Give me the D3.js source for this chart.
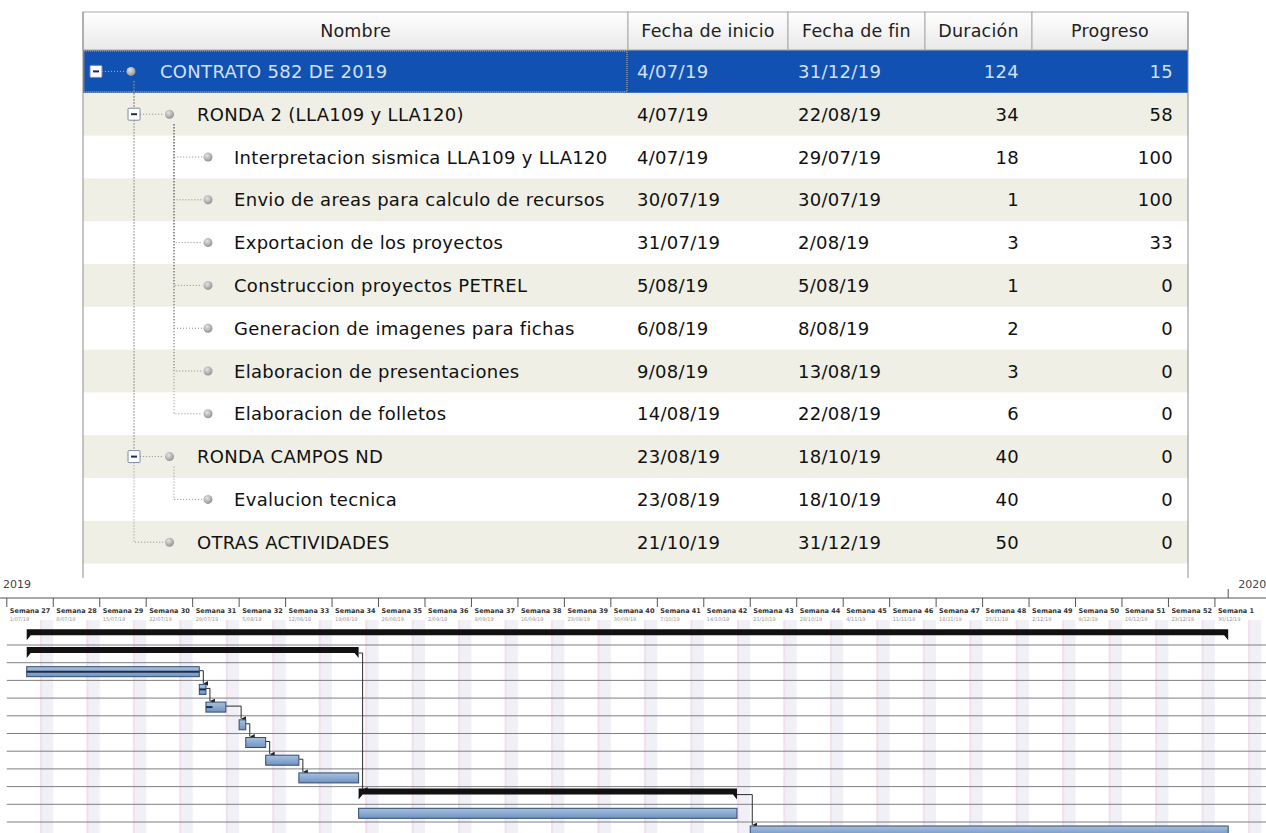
<!DOCTYPE html>
<html>
<head>
<meta charset="utf-8">
<script src="https://cdn.jsdelivr.net/npm/d3@7"></script>
<style>
  body { margin: 0; background: #fff; }
  svg { display: block; }
</style>
</head>
<body>
<div id="chart"></div>
<script>
const names = [
  "CONTRATO 582 DE 2019",
  "RONDA 2 (LLA109 y LLA120)",
  "Interpretacion sismica LLA109 y LLA120",
  "Envio de areas para calculo de recursos",
  "Exportacion de los proyectos",
  "Construccion proyectos PETREL",
  "Generacion de imagenes para fichas",
  "Elaboracion de presentaciones",
  "Elaboracion de folletos",
  "RONDA CAMPOS ND",
  "Evalucion tecnica",
  "OTRAS ACTIVIDADES"
];
const levels = [0, 1, 2, 2, 2, 2, 2, 2, 2, 1, 2, 1];
const startDates = ["4/07/19", "4/07/19", "4/07/19", "30/07/19", "31/07/19", "5/08/19",
  "6/08/19", "9/08/19", "14/08/19", "23/08/19", "23/08/19", "21/10/19"];
const endDates = ["31/12/19", "22/08/19", "29/07/19", "30/07/19", "2/08/19", "5/08/19",
  "8/08/19", "13/08/19", "22/08/19", "18/10/19", "18/10/19", "31/12/19"];
const durations = [124, 34, 18, 1, 3, 1, 2, 3, 6, 40, 40, 50];
const progress = [15, 58, 100, 100, 33, 0, 0, 0, 0, 0, 0, 0];
const summaryRows = [0, 1, 9];
const links = [[2, 3], [3, 4], [4, 5], [5, 6], [6, 7], [7, 8], [1, 9], [9, 11]];

const columns = ["Nombre", "Fecha de inicio", "Fecha de fin", "Duración", "Progreso"];
const weekNumbers = [27, 28, 29, 30, 31, 32, 33, 34, 35, 36, 37, 38, 39, 40, 41, 42, 43,
  44, 45, 46, 47, 48, 49, 50, 51, 52, 1];
const weekDates = ["1/07/19", "8/07/19", "15/07/19", "22/07/19", "29/07/19", "5/08/19",
  "12/08/19", "19/08/19", "26/08/19", "2/09/19", "9/09/19", "16/09/19", "23/09/19",
  "30/09/19", "7/10/19", "14/10/19", "21/10/19", "28/10/19", "4/11/19", "11/11/19",
  "18/11/19", "25/11/19", "2/12/19", "9/12/19", "16/12/19", "23/12/19", "30/12/19"];
const years = ["2019", "2020"];

const W = 1266, H = 833;
const parse = d3.timeParse("%d/%m/%y");
const FONT = "'DejaVu Sans', Verdana, sans-serif";

const rows = names.map((name, i) => ({
  i, name, level: levels[i],
  start: parse(startDates[i]), end: d3.timeDay.offset(parse(endDates[i]), 1),
  startText: startDates[i], endText: endDates[i],
  dur: durations[i], prog: progress[i],
  summary: summaryRows.includes(i)
}));

const svg = d3.select("#chart").append("svg")
    .attr("width", W).attr("height", H)
    .style("font-family", FONT);

const defs = svg.append("defs");
const hg = defs.append("linearGradient").attr("id", "hdr").attr("x1", 0).attr("y1", 0).attr("x2", 0).attr("y2", 1);
hg.append("stop").attr("offset", 0).attr("stop-color", "#ffffff");
hg.append("stop").attr("offset", 1).attr("stop-color", "#e9e9e9");
const bg = defs.append("linearGradient").attr("id", "bar").attr("x1", 0).attr("y1", 0).attr("x2", 0).attr("y2", 1);
bg.append("stop").attr("offset", 0).attr("stop-color", "#a9c0de");
bg.append("stop").attr("offset", 1).attr("stop-color", "#6f93c2");
const dg = defs.append("radialGradient").attr("id", "dot").attr("cx", 0.4).attr("cy", 0.35).attr("r", 0.7);
dg.append("stop").attr("offset", 0).attr("stop-color", "#e4e4e4");
dg.append("stop").attr("offset", 1).attr("stop-color", "#8e8e8e");
defs.append("marker").attr("id", "arr")
    .attr("viewBox", "0 0 6 6").attr("refX", 3).attr("refY", 6)
    .attr("markerWidth", 5).attr("markerHeight", 5).attr("orient", "auto-start-reverse")
  .append("path").attr("d", "M0,0 L6,0 L3,6 Z").attr("fill", "#222");

// ---------- table ----------
const colEdges = [83, 628, 788, 925, 1032, 1188];
const headTop = 12, headBottom = 50, rowH = 42.8;
const rowY = d3.scaleLinear().domain([0, 1]).range([headBottom, headBottom + rowH]);

const table = svg.append("g").attr("class", "table");

table.selectAll("rect.band")
  .data(rows.filter(d => d.i % 2 === 1))
  .join("rect")
    .attr("class", "band")
    .attr("x", colEdges[0]).attr("width", colEdges[5] - colEdges[0])
    .attr("y", d => rowY(d.i)).attr("height", rowH)
    .attr("fill", "#efefe5");

table.append("rect")
    .attr("x", colEdges[0]).attr("width", colEdges[5] - colEdges[0])
    .attr("y", rowY(0)).attr("height", rowH)
    .attr("fill", "#1151b2");
table.append("rect")
    .attr("x", colEdges[0] + 1).attr("width", colEdges[1] - colEdges[0] - 2)
    .attr("y", rowY(0) + 1).attr("height", rowH - 2)
    .attr("fill", "none").attr("stroke", "#d9b27a").attr("stroke-dasharray", "1,1");

// header
table.selectAll("rect.head")
  .data(columns)
  .join("rect")
    .attr("class", "head")
    .attr("x", (d, i) => colEdges[i]).attr("width", (d, i) => colEdges[i + 1] - colEdges[i])
    .attr("y", headTop).attr("height", headBottom - headTop)
    .attr("fill", "url(#hdr)").attr("stroke", "#a9a9a9");
table.selectAll("text.head")
  .data(columns)
  .join("text")
    .attr("class", "head")
    .attr("x", (d, i) => (colEdges[i] + colEdges[i + 1]) / 2)
    .attr("y", (headTop + headBottom) / 2 + 6)
    .attr("text-anchor", "middle")
    .attr("font-size", 17.5).attr("letter-spacing", 0.2).attr("fill", "#222")
    .text(d => d);

// outer border
table.append("line").attr("x1", colEdges[0]).attr("x2", colEdges[0])
    .attr("y1", headTop).attr("y2", 578).attr("stroke", "#8d8d8d");
table.append("line").attr("x1", colEdges[5]).attr("x2", colEdges[5])
    .attr("y1", headTop).attr("y2", 578).attr("stroke", "#8d8d8d");

// tree connectors
const boxX = l => 96 + 38 * l;
const dotX = l => 131 + 38.5 * l;
const textX = l => 160 + 37 * l;
const cy = i => rowY(i) + rowH / 2;
const tree = table.append("g")
    .attr("stroke", "#8a8a8a").attr("stroke-dasharray", "1,2").attr("fill", "none");
rows.forEach(d => {
  if (d.level === 0) return;
  let p = d.i - 1;
  while (levels[p] >= d.level) p--;
  const lx = d.level === 1 ? 134 : 174;
  tree.append("path").attr("d", `M${lx},${cy(p) + 10}V${cy(d.i)}H${dotX(d.level) - 6}`);
});
table.append("path").attr("d", `M${boxX(0) + 6},${cy(0)}H${dotX(0) - 6}`)
    .attr("stroke", "#9fb3d6").attr("stroke-dasharray", "1,2");

// expand boxes
const boxes = table.selectAll("g.box")
  .data(rows.filter(d => d.summary))
  .join("g")
    .attr("class", "box")
    .attr("transform", d => `translate(${boxX(d.level)},${cy(d.i)})`);
boxes.append("rect").attr("x", -6).attr("y", -6).attr("width", 12).attr("height", 12)
    .attr("rx", 1).attr("fill", "#fff").attr("stroke", "#7d8aa3");
boxes.append("line").attr("x1", -3).attr("x2", 3)
    .attr("stroke", "#1b2b52").attr("stroke-width", 2);

table.selectAll("circle.dot")
  .data(rows)
  .join("circle")
    .attr("class", "dot")
    .attr("cx", d => dotX(d.level)).attr("cy", d => cy(d.i)).attr("r", 4.5)
    .attr("fill", "url(#dot)");

const txt = d => d.i === 0 ? "#d3e0f5" : "#111";
const cells = table.append("g").attr("font-size", 18).attr("letter-spacing", 0.3);
cells.selectAll("text.name").data(rows).join("text")
    .attr("x", d => textX(d.level)).attr("y", d => cy(d.i) + 6.5)
    .attr("fill", txt).text(d => d.name);
cells.selectAll("text.start").data(rows).join("text")
    .attr("x", 637).attr("y", d => cy(d.i) + 6.5)
    .attr("fill", txt).text(d => d.startText);
cells.selectAll("text.end").data(rows).join("text")
    .attr("x", 798).attr("y", d => cy(d.i) + 6.5)
    .attr("fill", txt).text(d => d.endText);
cells.selectAll("text.dur").data(rows).join("text")
    .attr("x", 1019).attr("y", d => cy(d.i) + 6.5).attr("text-anchor", "end")
    .attr("fill", txt).text(d => d.dur);
cells.selectAll("text.prog").data(rows).join("text")
    .attr("x", 1173).attr("y", d => cy(d.i) + 6.5).attr("text-anchor", "end")
    .attr("fill", txt).text(d => d.prog);

// ---------- gantt ----------
const dayW = 6.638, x0 = 6.8;
const mondays = weekDates.map(parse);
const x = d3.scaleTime()
    .domain([mondays[0], d3.timeDay.offset(mondays[0], 189)])
    .range([x0, x0 + 189 * dayW]);
const gTop = 627.3, gRowH = 17.7;
const gy = d3.scaleLinear().domain([0, 1]).range([gTop, gTop + gRowH]);

const gantt = svg.append("g").attr("class", "gantt");

// weekend stripes
gantt.selectAll("rect.wk")
  .data(mondays)
  .join("rect")
    .attr("class", "wk")
    .attr("x", d => x(d3.timeDay.offset(d, 5)))
    .attr("width", d => x(d3.timeDay.offset(d, 7)) - x(d3.timeDay.offset(d, 5)))
    .attr("y", 620).attr("height", H - 620)
    .attr("fill", "#f1f0f7");
gantt.selectAll("line.wk")
  .data(mondays)
  .join("line")
    .attr("class", "wk")
    .attr("x1", d => x(d3.timeDay.offset(d, 5)) + 1).attr("x2", d => x(d3.timeDay.offset(d, 5)) + 1)
    .attr("y1", 620).attr("y2", H)
    .attr("stroke", "#f3e0ec").attr("stroke-width", 2);

// row lines
gantt.selectAll("line.row")
  .data(rows)
  .join("line")
    .attr("class", "row")
    .attr("x1", x0).attr("x2", W)
    .attr("y1", d => gy(d.i + 1)).attr("y2", d => gy(d.i + 1))
    .attr("stroke", "#7f7f86").attr("stroke-width", 1);

// time axis
const axisY = 598;
gantt.append("line").attr("x1", 0).attr("x2", W).attr("y1", axisY).attr("y2", axisY)
    .attr("stroke", "#555");
gantt.selectAll("line.tick")
  .data(mondays)
  .join("line")
    .attr("class", "tick")
    .attr("x1", d => x(d)).attr("x2", d => x(d))
    .attr("y1", axisY).attr("y2", axisY + 9)
    .attr("stroke", "#555");
gantt.selectAll("text.wkn")
  .data(mondays)
  .join("text")
    .attr("class", "wkn")
    .attr("x", d => x(d) + 3).attr("y", 613)
    .attr("font-size", 6.5).attr("font-weight", "bold").attr("fill", "#333")
    .text((d, i) => "Semana " + weekNumbers[i]);
gantt.selectAll("text.wkd")
  .data(mondays)
  .join("text")
    .attr("class", "wkd")
    .attr("x", d => x(d) + 3).attr("y", 621)
    .attr("font-size", 5).attr("fill", "#999")
    .text((d, i) => weekDates[i]);
const jan1 = new Date(2020, 0, 1);
gantt.append("line").attr("x1", x(jan1)).attr("x2", x(jan1))
    .attr("y1", axisY - 9).attr("y2", axisY).attr("stroke", "#555");
gantt.append("text").attr("x", 3).attr("y", 588)
    .attr("font-size", 11).attr("fill", "#444").text(years[0]);
gantt.append("text").attr("x", x(jan1) + 10).attr("y", 588)
    .attr("font-size", 11).attr("fill", "#444").text(years[1]);

// dependency links
const linkG = gantt.append("g").attr("fill", "none").attr("stroke", "#2a2a2a").attr("stroke-width", 1);
links.forEach(([a, b]) => {
  const s = rows[a], t = rows[b];
  const xe = x(s.end), ym = gy(a) + 8;
  const xt = Math.max(xe + 4, x(t.start) + 2);
  linkG.append("path")
      .attr("d", `M${xe},${ym}H${xt}V${gy(b) + 3}`)
      .attr("marker-end", "url(#arr)");
});

// summary bars
gantt.selectAll("path.sum")
  .data(rows.filter(d => d.summary))
  .join("path")
    .attr("class", "sum")
    .attr("d", d => {
      const a = x(d.start), b = x(d.end), t = gy(d.i) + 2;
      return `M${a},${t}H${b}V${t + 11}L${b - 4},${t + 6}H${a + 4}L${a},${t + 11}Z`;
    })
    .attr("fill", "#111");

// task bars
const tasks = rows.filter(d => !d.summary);
gantt.selectAll("rect.task")
  .data(tasks)
  .join("rect")
    .attr("class", "task")
    .attr("x", d => x(d.start)).attr("width", d => x(d.end) - x(d.start))
    .attr("y", d => gy(d.i) + 4).attr("height", 10)
    .attr("fill", "url(#bar)").attr("stroke", "#2f4b70").attr("stroke-width", 1);
gantt.selectAll("line.prog")
  .data(tasks.filter(d => d.prog > 0))
  .join("line")
    .attr("class", "prog")
    .attr("x1", d => x(d.start))
    .attr("x2", d => x(d.start) + (x(d.end) - x(d.start)) * d.prog / 100)
    .attr("y1", d => gy(d.i) + 9).attr("y2", d => gy(d.i) + 9)
    .attr("stroke", "#1c2d48").attr("stroke-width", 2);
</script>
</body>
</html>
